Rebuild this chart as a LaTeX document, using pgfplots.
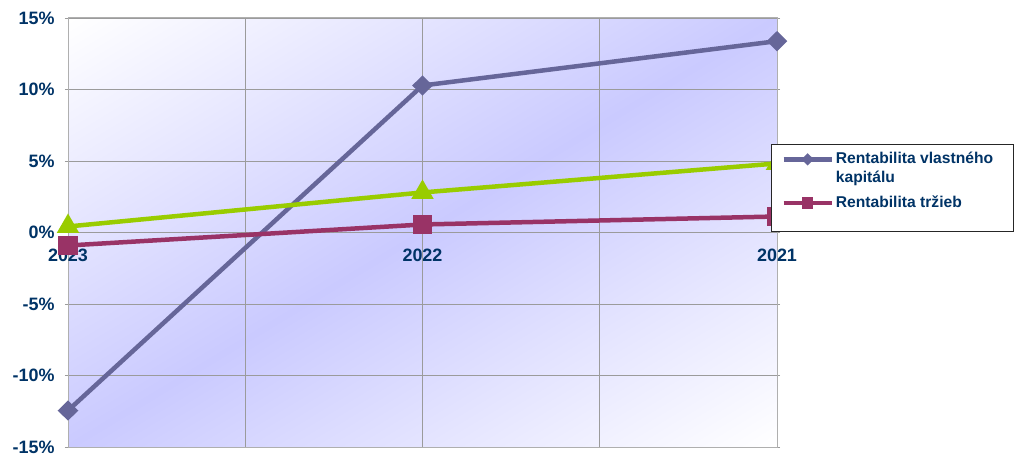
\documentclass[border=0pt]{standalone}
\usepackage{pgfplots}
\pgfplotsset{compat=1.18}
\usepackage{fontspec}
\setmainfont{Liberation Sans}
\definecolor{navy}{RGB}{0,51,102}
\definecolor{roe}{RGB}{102,102,153}
\definecolor{ros}{RGB}{153,51,102}
\definecolor{grn}{RGB}{153,204,0}
\definecolor{lav}{RGB}{202,202,255}
\definecolor{gridc}{RGB}{155,155,155}
\definecolor{borderc}{RGB}{175,175,175}
\pgfdeclareverticalshading{bgshade}{100bp}{color(0bp)=(white); color(14.6bp)=(white); color(50bp)=(lav); color(85.4bp)=(white); color(100bp)=(white)}
\pgfplotsset{
  firstimg/.style={legend image code/.code={
    \draw[##1, mark=none] (-24bp,9bp) -- (24bp,9bp);
    \draw[##1, mark size=3bp] plot coordinates {(0bp,9bp)};
  }},
  otherimg/.style={legend image code/.code={
    \draw[##1, mark=none] (-24bp,0bp) -- (24bp,0bp);
    \draw[##1, mark size=3.5bp] plot coordinates {(0bp,0bp)};
  }},
}
\begin{document}
\begin{tikzpicture}
\path[use as bounding box] (0,0) rectangle (1018bp,466bp);
\begin{scope}[transform canvas={xshift=68bp, yshift=19bp, xscale=1.65268}]
  \shade[shading=bgshade, shading angle=45] (0,0) rectangle (429bp,429bp);
\end{scope}
\begin{axis}[
  at={(68bp,19bp)}, anchor=south west,
  scale only axis, width=709bp, height=429bp,
  xmin=0, xmax=2, ymin=-15, ymax=15,
  clip=false,
  xtick={0,1,2}, xticklabels={2023,2022,2021},
  minor xtick={0.5,1.5},
  ytick={-15,-10,-5,0,5,10,15},
  yticklabels={-15\%,-10\%,-5\%,0\%,5\%,10\%,15\%},
  grid=both,
  grid style={gridc, line width=0.8bp},
  minor grid style={gridc, line width=0.8bp},
  axis line style={borderc, line width=1bp},
  xtick style={draw=none},
  minor tick length=0pt,
  ytick align=outside,
  major tick length=3bp,
  ytick style={gridc, line width=0.8bp},
  tick label style={font=\bfseries\fontsize{18}{20}\selectfont, text=navy},
  xticklabel style={yshift=202bp},
  yticklabel style={xshift=-7bp},
  legend style={at={(0.9915,0.7063)}, anchor=north west, draw={black!85}, line width=0.8bp, fill=white,
    font=\bfseries\fontsize{15.7}{19}\selectfont, text=navy, nodes={align=left, inner xsep=2bp},
    inner xsep=10bp, inner ysep=6bp, row sep=8bp},
  legend cell align=left,
  otherimg,
]
\addplot[roe, line width=4.5bp, mark=diamond*, mark size=7bp, mark options={xscale=1.35}, firstimg]
  coordinates {(0,-12.45) (1,10.28) (2,13.38)};
\addlegendentry{\makebox[166bp][l]{Rentabilita vlastného}\\kapitálu}
\addplot[ros, line width=4.5bp, mark=square*, mark size=7.5bp]
  coordinates {(0,-0.91) (1,0.56) (2,1.12)};
\addlegendentry{Rentabilita tržieb}
\addplot[grn, line width=4.5bp, mark=triangle*, mark size=8.5bp, forget plot]
  coordinates {(0,0.42) (1,2.80) (2,4.83)};
\addlegendimage{empty legend}
\addlegendentry{}
\end{axis}
\end{tikzpicture}
\end{document}
